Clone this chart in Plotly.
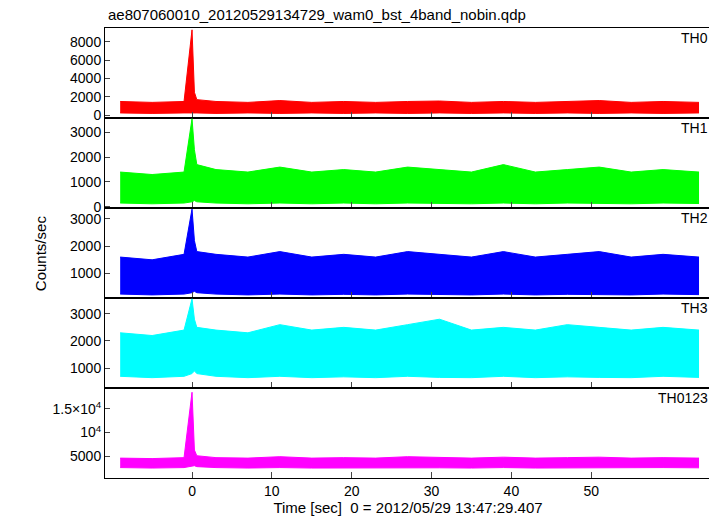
import plotly.graph_objects as go
from plotly.subplots import make_subplots

# envelope sample times (sec)
t = [-9, -5, -1, 0, 0.3, 0.6, 3, 7, 11, 15, 19, 23, 27, 31, 35, 39, 43, 47, 51, 55, 59, 63.5]
names = ["TH0", "TH1", "TH2", "TH3", "TH0123"]
colors = ["#ff0000", "#00ff00", "#0000ff", "#00ffff", "#ff00ff"]
lo = [
    [250, 200, 250, 300, 300, 250, 200, 250, 200, 250, 200, 250, 200, 250, 200, 250, 200, 250, 200, 250, 200, 250],
    [150, 120, 150, 200, 250, 200, 150, 120, 150, 120, 150, 120, 150, 130, 120, 150, 120, 150, 130, 120, 150, 130],
    [250, 220, 250, 300, 350, 300, 250, 220, 250, 220, 240, 220, 250, 230, 220, 250, 220, 240, 230, 220, 250, 230],
    [700, 650, 700, 800, 900, 800, 700, 650, 700, 650, 680, 650, 700, 660, 650, 700, 650, 680, 660, 650, 700, 660],
    [2600, 2500, 2600, 2800, 3000, 2800, 2600, 2500, 2600, 2500, 2550, 2500, 2600, 2550, 2500, 2600, 2500, 2550, 2550, 2500, 2600, 2550],
]
hi = [
    [1500, 1400, 1500, 9300, 2500, 1700, 1500, 1400, 1600, 1400, 1500, 1400, 1500, 1550, 1400, 1500, 1400, 1500, 1600, 1400, 1500, 1400],
    [1400, 1300, 1400, 3550, 2300, 1700, 1500, 1400, 1600, 1400, 1500, 1400, 1600, 1500, 1400, 1700, 1400, 1500, 1600, 1400, 1500, 1400],
    [1600, 1500, 1700, 3350, 2200, 1800, 1700, 1600, 1800, 1600, 1700, 1600, 1800, 1700, 1600, 1800, 1600, 1700, 1800, 1600, 1700, 1600],
    [2300, 2200, 2400, 3550, 2800, 2500, 2400, 2300, 2600, 2400, 2500, 2400, 2600, 2800, 2400, 2500, 2400, 2600, 2500, 2400, 2500, 2400],
    [4600, 4500, 4700, 18500, 6300, 5100, 4700, 4600, 4900, 4600, 4700, 4600, 4900, 4700, 4600, 4800, 4600, 4700, 4800, 4600, 4700, 4600],
]
yranges = [[-300, 9500], [-50, 3580], [107, 3390], [270, 3580], [400, 19400]]
ytickvals = [[0, 2000, 4000, 6000, 8000], [0, 1000, 2000, 3000], [1000, 2000, 3000],
             [1000, 2000, 3000], [5000, 10000, 15000]]
yticktext = [None, None, None, None, ["5000", "10<sup>4</sup>", "1.5×10<sup>4</sup>"]]
xticks = [0, 10, 20, 30, 40, 50]
font = "Liberation Sans"

fig = make_subplots(rows=5, cols=1, shared_xaxes=True, vertical_spacing=0)
for i in range(5):
    fig.add_trace(go.Scatter(x=t, y=lo[i], mode="lines", line=dict(color=colors[i], width=1),
                             showlegend=False), row=i + 1, col=1)
    fig.add_trace(go.Scatter(x=t, y=hi[i], mode="lines", line=dict(color=colors[i], width=1),
                             fill="tonexty", fillcolor=colors[i], showlegend=False), row=i + 1, col=1)
    ax = dict(range=yranges[i], tickvals=ytickvals[i], showline=True, linecolor="black", linewidth=1,
              mirror=True, ticks="inside", ticklen=5, showgrid=False, zeroline=False, automargin=False,
              tickfont=dict(family=font, size=14, color="black"))
    if yticktext[i]:
        ax["ticktext"] = yticktext[i]
    fig.update_yaxes(**ax, row=i + 1, col=1)
    fig.update_xaxes(range=[-10.9, 65], tickvals=xticks, showline=True, linecolor="black", linewidth=1,
                     mirror=True, ticks="inside", ticklen=6, showgrid=False, zeroline=False, automargin=False,
                     tickfont=dict(family=font, size=14, color="black"), row=i + 1, col=1)
    fig.add_annotation(text=names[i], xref=f"x{'' if i == 0 else i + 1} domain",
                       yref=f"y{'' if i == 0 else i + 1} domain", x=0.998, y=1.0, xanchor="right",
                       yanchor="top", showarrow=False, font=dict(family=font, size=14, color="black"))

fig.update_xaxes(title=dict(text="Time [sec]  0 = 2012/05/29 13:47:29.407",
                            font=dict(family=font, size=15, color="black"), standoff=0), row=5, col=1)
fig.add_annotation(text="Counts/sec", xref="paper", yref="paper", x=-0.107, y=0.5, textangle=-90,
                   xanchor="center", showarrow=False, font=dict(family=font, size=15, color="black"))
fig.update_layout(width=709, height=508, plot_bgcolor="white", paper_bgcolor="white",
                  margin=dict(l=97, r=6, t=20, b=38, autoexpand=False),
                  title=dict(text="ae807060010_20120529134729_wam0_bst_4band_nobin.qdp", x=0.141, y=0.997,
                             xanchor="left", yanchor="top", font=dict(family=font, size=15, color="black")))
fig.write_html("out.html")
